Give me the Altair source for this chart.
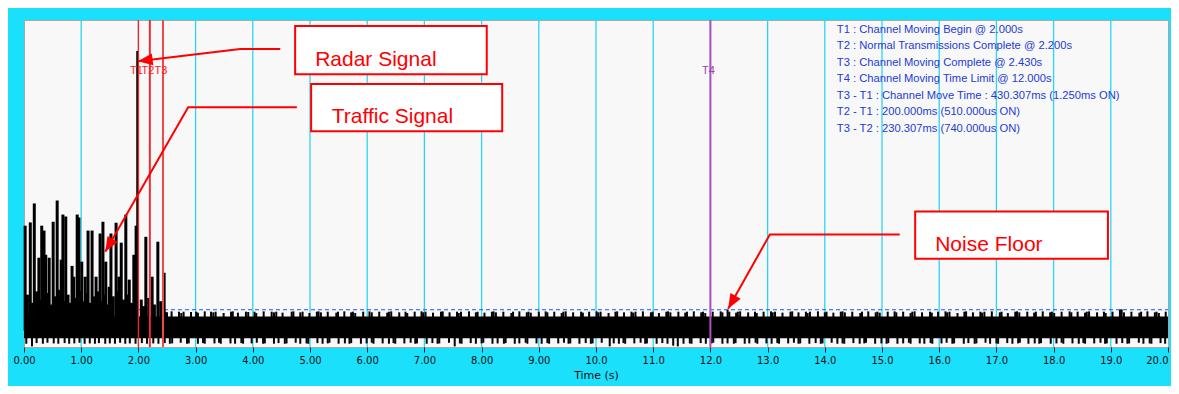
import altair as alt
import pandas as pd

# ---------------- data ----------------
tick_values = list(range(0, 21))
grid_t = list(range(1, 20))

noise_core_lo = 2.7
noise_core_hi = 9.3
noise_ref_level = 11.4     # dashed blue line

# small upward noise spikes (time, top)
noise_up = [
    [2.47, 10.8], [2.50, 10.6], [2.58, 10.9], [2.71, 10.8], [2.75, 10.4], [2.79, 10.8], [2.92, 10.7],
    [3.01, 10.8], [3.04, 10.5], [3.16, 10.9], [3.27, 10.8], [3.31, 10.6], [3.35, 10.8], [3.49, 10.4],
    [3.62, 10.8], [3.65, 10.9], [3.74, 10.5], [3.88, 10.8], [3.92, 10.7], [4.03, 10.8], [4.06, 10.4],
    [4.19, 10.9], [4.33, 10.8], [4.37, 10.6], [4.41, 10.8], [4.52, 10.5], [4.68, 10.8], [4.71, 10.9],
    [4.83, 10.6], [4.87, 10.8], [4.99, 10.4], [5.12, 10.8], [5.15, 10.9], [5.19, 10.6], [5.31, 10.8],
    [5.46, 10.5], [5.49, 10.8], [5.60, 10.9], [5.72, 10.6], [5.75, 10.8], [5.79, 10.4], [5.93, 10.8],
    [6.04, 10.9], [6.08, 10.6], [6.21, 10.8], [6.35, 10.5], [6.38, 10.8], [6.42, 10.9], [6.56, 10.6],
    [6.67, 10.8], [6.70, 10.4], [6.83, 10.8], [6.95, 10.9], [6.98, 10.6], [7.02, 10.8], [7.15, 10.5],
    [7.29, 10.8], [7.32, 10.9], [7.44, 10.6], [7.57, 10.8], [7.60, 10.4], [7.64, 10.8], [7.78, 10.9],
    [7.90, 10.6], [7.93, 10.8], [8.05, 10.5], [8.18, 10.8], [8.21, 10.9], [8.25, 10.6], [8.38, 10.8],
    [8.52, 10.4], [8.55, 10.8], [8.66, 10.9], [8.79, 10.6], [8.82, 10.8], [8.86, 10.5], [9.00, 10.8],
    [9.12, 10.9], [9.15, 10.6], [9.27, 10.8], [9.40, 10.4], [9.43, 10.8], [9.47, 10.9], [9.60, 10.6],
    [9.74, 10.8], [9.77, 10.5], [9.88, 10.8], [10.01, 10.9], [10.04, 10.6], [10.08, 10.8], [10.22, 10.4],
    [10.34, 10.8], [10.37, 10.9], [10.49, 10.6], [10.62, 10.8], [10.65, 10.5], [10.69, 10.8],
    [10.82, 10.9], [10.96, 10.6], [10.99, 10.8], [11.10, 10.4], [11.23, 10.8], [11.26, 10.9],
    [11.30, 10.6], [11.44, 10.8], [11.56, 10.5], [11.59, 10.8], [11.71, 10.9], [11.84, 10.6],
    [11.87, 10.8], [11.91, 10.4], [12.04, 10.8], [12.18, 10.9], [12.21, 10.6], [12.30, 11.5],
    [12.33, 10.8], [12.45, 10.5], [12.48, 10.8], [12.52, 10.9], [12.66, 10.6], [12.78, 10.8],
    [12.81, 10.4], [12.93, 10.8], [13.06, 10.9], [13.09, 10.6], [13.13, 10.8], [13.26, 10.5],
    [13.40, 10.8], [13.43, 10.9], [13.54, 10.6], [13.67, 10.8], [13.70, 10.4], [13.74, 10.8],
    [13.88, 10.9], [14.00, 10.6], [14.03, 10.8], [14.15, 10.5], [14.28, 10.8], [14.31, 10.9],
    [14.35, 10.6], [14.48, 10.8], [14.62, 10.4], [14.65, 10.8], [14.76, 10.9], [14.89, 10.6],
    [14.92, 10.8], [14.96, 10.5], [15.10, 10.8], [15.22, 10.9], [15.25, 10.6], [15.37, 10.8],
    [15.50, 10.4], [15.53, 10.8], [15.57, 10.9], [15.70, 10.6], [15.84, 10.8], [15.87, 10.5],
    [15.98, 10.8], [16.11, 10.9], [16.14, 10.6], [16.18, 10.8], [16.32, 10.4], [16.44, 10.8],
    [16.47, 10.9], [16.59, 10.6], [16.72, 10.8], [16.75, 10.5], [16.79, 10.8], [16.92, 10.9],
    [17.06, 10.6], [17.09, 10.8], [17.20, 10.4], [17.33, 10.8], [17.36, 10.9], [17.40, 10.6],
    [17.54, 10.8], [17.66, 10.5], [17.69, 10.8], [17.81, 10.9], [17.94, 10.6], [17.97, 10.8],
    [18.01, 10.4], [18.14, 10.8], [18.28, 10.9], [18.31, 10.6], [18.42, 10.8], [18.55, 10.5],
    [18.58, 10.8], [18.62, 10.9], [18.76, 10.6], [18.88, 10.8], [18.91, 10.4], [19.03, 10.8],
    [19.16, 11.5], [19.19, 11.5], [19.23, 10.6], [19.36, 10.8], [19.50, 10.5], [19.53, 10.8],
    [19.64, 10.9], [19.77, 10.6], [19.80, 10.8], [19.84, 10.4], [19.96, 10.8],
]

# small downward noise spikes (time, bottom)
noise_dn = [
    [0.04, 1.0], [0.14, 0.2], [0.22, 1.2], [0.33, 1.0], [0.41, 1.3], [0.52, 1.1], [0.60, 1.0], [0.71, 1.2],
    [0.79, 1.0], [0.88, 1.1], [0.97, 1.3], [1.06, 1.0], [1.15, 1.1], [1.24, 1.0], [1.31, 1.2], [1.42, 1.0],
    [1.50, 1.1], [1.59, 1.0], [1.68, 1.3], [1.77, 1.0], [1.85, 1.1], [1.95, 1.0], [2.06, 1.2], [2.15, 1.0],
    [2.26, 1.1], [2.35, 1.0], [2.46, 1.2], [2.55, 1.0], [2.59, 1.1], [2.74, 1.3], [2.85, 1.0], [2.88, 1.1],
    [3.04, 1.0], [3.13, 1.2], [3.16, 1.0], [3.33, 1.1], [3.41, 1.3], [3.44, 1.0], [3.61, 1.1], [3.69, 1.0],
    [3.80, 1.2], [3.83, 1.0], [3.98, 1.1], [4.07, 1.3], [4.18, 1.0], [4.21, 1.1], [4.37, 1.0], [4.45, 1.2],
    [4.56, 1.0], [4.59, 1.1], [4.75, 1.3], [4.83, 1.0], [4.94, 1.1], [4.97, 1.0], [5.13, 1.2], [5.22, 1.0],
    [5.31, 1.1], [5.34, 1.3], [5.50, 1.0], [5.61, 1.1], [5.69, 1.0], [5.72, 1.2], [5.89, 1.0], [5.99, 1.1],
    [6.08, 1.3], [6.11, 1.0], [6.27, 1.1], [6.38, 1.0], [6.46, 1.2], [6.49, 1.0], [6.65, 1.1], [6.76, 1.3],
    [6.84, 1.0], [6.87, 1.1], [7.04, 1.0], [7.14, 1.2], [7.23, 1.0], [7.26, 1.1], [7.43, 1.3], [7.53, 0.2],
    [7.62, 1.1], [7.65, 1.0], [7.81, 1.2], [7.90, 1.0], [8.00, 1.1], [8.03, 1.3], [8.19, 1.0], [8.28, 1.1],
    [8.39, 1.0], [8.42, 1.2], [8.58, 1.0], [8.66, 1.1], [8.77, 1.3], [8.80, 1.0], [8.96, 1.1], [9.05, 1.0],
    [9.15, 1.2], [9.18, 1.0], [9.34, 1.1], [9.44, 1.3], [9.52, 1.0], [9.55, 1.1], [9.71, 1.0], [9.82, 1.2],
    [9.91, 1.0], [9.94, 1.1], [10.10, 1.3], [10.24, 0.2], [10.31, 1.1], [10.40, 1.0], [10.48, 1.2],
    [10.51, 1.0], [10.67, 1.1], [10.78, 1.3], [10.86, 1.0], [10.89, 1.1], [11.06, 1.0], [11.16, 1.2],
    [11.25, 1.0], [11.35, 0.4], [11.43, 0.2], [11.53, 1.0], [11.64, 1.1], [11.67, 1.0], [11.83, 1.2],
    [11.92, 1.0], [12.02, 1.1], [12.05, 1.3], [12.21, 1.0], [12.30, 1.1], [12.41, 1.0], [12.44, 1.2],
    [12.60, 1.0], [12.68, 1.1], [12.79, 1.3], [12.82, 1.0], [12.98, 1.1], [13.07, 1.0], [13.17, 1.2],
    [13.20, 1.0], [13.36, 1.1], [13.46, 1.3], [13.54, 1.0], [13.57, 1.1], [13.73, 1.0], [13.84, 1.2],
    [13.93, 1.0], [13.96, 1.1], [14.12, 1.3], [14.22, 1.0], [14.31, 1.1], [14.34, 1.0], [14.50, 1.2],
    [14.61, 1.0], [14.69, 1.1], [14.72, 1.3], [14.88, 1.0], [14.99, 1.1], [15.08, 1.0], [15.11, 1.2],
    [15.27, 1.0], [15.37, 1.1], [15.47, 1.3], [15.50, 1.0], [15.66, 1.1], [15.74, 1.0], [15.85, 1.2],
    [15.88, 1.0], [16.04, 1.1], [16.13, 1.3], [16.23, 1.0], [16.26, 1.1], [16.43, 1.0], [16.51, 1.2],
    [16.62, 1.0], [16.65, 1.1], [16.81, 1.3], [16.89, 1.0], [17.00, 1.1], [17.03, 1.0], [17.19, 1.2],
    [17.28, 1.0], [17.38, 1.1], [17.41, 1.3], [17.56, 1.0], [17.67, 1.1], [17.75, 1.0], [17.78, 1.2],
    [17.95, 1.0], [18.05, 1.1], [18.14, 1.3], [18.17, 1.0], [18.33, 1.1], [18.44, 1.0], [18.52, 1.2],
    [18.55, 1.0], [18.71, 1.1], [18.82, 1.3], [18.90, 1.0], [18.93, 1.1], [19.10, 1.0], [19.20, 1.2],
    [19.29, 1.0], [19.32, 1.1], [19.49, 1.3], [19.57, 1.0], [19.68, 1.1], [19.71, 1.0], [19.87, 1.2],
    [19.95, 1.0],
]

# traffic signal bursts before the channel move (time, peak)
traffic_peaks = [
    [0.02, 37.1], [0.11, 38.1], [0.18, 43.9], [0.26, 27.3], [0.31, 37.1], [0.35, 35.6], [0.38, 28.2],
    [0.44, 27.3], [0.51, 38.3], [0.58, 44.8], [0.65, 26.7], [0.68, 40.5], [0.73, 39.9], [0.84, 24.8],
    [0.87, 21.5], [0.93, 40.5], [0.96, 39.6], [1.01, 26.1], [1.07, 21.5], [1.12, 35.6], [1.19, 35.6],
    [1.26, 21.5], [1.33, 34.7], [1.38, 38.3], [1.43, 26.1], [1.49, 18.4], [1.52, 34.7], [1.61, 38.0],
    [1.66, 21.5], [1.70, 31.9], [1.78, 40.5], [1.84, 20.6], [1.92, 28.2], [1.96, 37.1], [2.13, 33.7],
    [2.24, 21.5], [2.34, 32.2], [2.45, 22.7],
]
# low traffic bursts filling the base of the burst region
traffic_low = [
    [0.06, 16.0], [0.14, 13.5], [0.22, 17.0], [0.29, 14.5], [0.41, 16.5], [0.47, 13.0], [0.55, 15.5],
    [0.62, 17.5], [0.70, 14.0], [0.77, 16.0], [0.80, 13.5], [0.90, 15.0], [0.99, 17.0], [1.04, 14.0],
    [1.09, 16.5], [1.16, 13.5], [1.22, 15.5], [1.30, 17.0], [1.36, 14.0], [1.41, 16.0], [1.46, 13.0],
    [1.56, 15.5], [1.64, 17.0], [1.74, 14.5], [1.81, 16.0], [1.88, 13.5], [2.05, 14.5], [2.09, 12.5],
    [2.18, 15.0], [2.28, 13.0], [2.39, 14.0],
]
radar_t = [1.985]
radar_peak = [90.5]

marker_names = ["T1", "T2", "T3", "T4"]
marker_t = [2.0, 2.2, 2.43, 12.0]
marker_colors = ["#ff2020", "#e83030", "#f04848", "#b050c0"]
marker_label_colors = ["#ff2020", "#ff2020", "#ff2020", "#a040b0"]
marker_widths = [1.3, 2.0, 2.0, 2.0]
marker_label_v = 84.4

info_lines = [
    "T1 : Channel Moving Begin @ 2.000s",
    "T2 : Normal Transmissions Complete @ 2.200s",
    "T3 : Channel Moving Complete @ 2.430s",
    "T4 : Channel Moving Time Limit @ 12.000s",
    " ",
    "T3 - T1 : Channel Move Time : 430.307ms (1.250ms ON)",
    "T2 - T1 : 200.000ms (510.000us ON)",
    "T3 - T2 : 230.307ms (740.000us ON)",
]
info_anchor = [14.21, 98.9]

box_names = ["Radar Signal", "Traffic Signal", "Noise Floor"]
box_t0 = [4.74, 5.02, 15.58]
box_t1 = [8.09, 8.36, 18.95]
box_v0 = [83.4, 66.0, 27.0]
box_v1 = [98.2, 80.4, 41.4]
box_text_t = [5.09, 5.38, 15.93]
box_text_v = [87.8, 70.4, 31.1]

arrow_pts = {
    "Radar Signal": [[4.48, 91.1], [3.78, 91.1], [1.99, 87.4]],
    "Traffic Signal": [[4.77, 73.3], [2.87, 73.3], [1.42, 29.1]],
    "Noise Floor": [[15.31, 34.4], [13.04, 34.4], [12.31, 11.7]],
}
arrow_head_angle = [353, 300, 300]

# ---------------- chart ----------------
xs = alt.Scale(domain=[0, 20], nice=False, zero=False)
ys = alt.Scale(domain=[0, 100], nice=False, zero=False)

x_axis = alt.Axis(
    values=tick_values, grid=False, domain=False, ticks=True, tickSize=5,
    tickColor="#222222", tickWidth=1,
    labelExpr="datum.value < 10 ? format(datum.value, '.2f') : format(datum.value, '.1f')",
    labelAlign={"condition": {"test": "datum.value >= 20", "value": "right"}, "value": "center"},
    labelFont="DejaVu Sans", labelFontSize=10, labelColor="#111111", labelPadding=3,
    labelFlush=False, labelOverlap=False,
    title="Time (s)", titleFont="DejaVu Sans", titleFontSize=11, titleFontWeight="normal",
    titleColor="#111111", titlePadding=4)


def X(f):
    return alt.X(f, type="quantitative", scale=xs, axis=x_axis)


def Y(f):
    return alt.Y(f, type="quantitative", scale=ys, axis=None)


grid = alt.Chart(pd.DataFrame({"t": grid_t})).mark_rule(
    color="#2ad6f6", strokeWidth=1.3).encode(x=X("t"))

ref = alt.Chart(pd.DataFrame({"t0": [0], "t1": [20], "v": [noise_ref_level]})).mark_rule(
    color="#2255ff", strokeWidth=1, strokeDash=[4, 3]).encode(x=X("t0"), x2="t1", y=Y("v"))

core = alt.Chart(pd.DataFrame({"t0": [0], "t1": [20], "lo": [noise_core_lo], "hi": [noise_core_hi]})).mark_rect(
    color="#000000").encode(x=X("t0"), x2="t1", y=Y("lo"), y2="hi")

up_df = pd.DataFrame(noise_up, columns=["t", "v"])
up_df["base"] = 5.0
ups = alt.Chart(up_df).mark_rule(color="#000000", strokeWidth=2).encode(x=X("t"), y=Y("base"), y2="v")

dn_df = pd.DataFrame(noise_dn, columns=["t", "v"])
dn_df["base"] = 5.0
dns = alt.Chart(dn_df).mark_rule(color="#000000", strokeWidth=2).encode(x=X("t"), y=Y("v"), y2="base")

tr_df = pd.DataFrame(traffic_peaks + traffic_low, columns=["t", "v"])
tr_df["base"] = 5.0
traffic = alt.Chart(tr_df).mark_rule(color="#000000", strokeWidth=3).encode(x=X("t"), y=Y("base"), y2="v")

rad_df = pd.DataFrame({"t": radar_t, "v": radar_peak, "base": [5.0]})
radar = alt.Chart(rad_df).mark_rule(color="#000000", strokeWidth=2.6).encode(x=X("t"), y=Y("base"), y2="v")

mk_df = pd.DataFrame({"name": marker_names, "t": marker_t, "color": marker_colors,
                      "lcolor": marker_label_colors, "w": marker_widths,
                      "lv": [marker_label_v] * 4})
markers = alt.Chart(mk_df).mark_rule().encode(
    x=X("t"),
    color=alt.Color("color:N", scale=None),
    strokeWidth=alt.StrokeWidth("w:Q", scale=None),
)
marker_labels = alt.Chart(mk_df).mark_text(font="Liberation Sans", fontSize=11, align="center",
                                           baseline="middle", dx=-2).encode(
    x=X("t"), y=Y("lv"), text="name:N", color=alt.Color("lcolor:N", scale=None))

info = alt.Chart(pd.DataFrame({"t": [info_anchor[0]], "v": [info_anchor[1]]})).mark_text(
    text=info_lines, font="Liberation Sans", fontSize=11.2, lineHeight=16.5, align="left",
    baseline="top", color="#1c3cd4").encode(x=X("t"), y=Y("v"))

box_df = pd.DataFrame({"name": box_names, "t0": box_t0, "t1": box_t1, "v0": box_v0, "v1": box_v1,
                       "tt": box_text_t, "tv": box_text_v})
boxes = alt.Chart(box_df).mark_rect(fill="#ffffff", stroke="#ff0000", strokeWidth=2).encode(
    x=X("t0"), x2="t1", y=Y("v0"), y2="v1")
box_text = alt.Chart(box_df).mark_text(font="Liberation Sans", fontSize=21, align="left",
                                       baseline="middle", color="#ff0000").encode(
    x=X("tt"), y=Y("tv"), text="name:N")

rows = []
for name, pts in arrow_pts.items():
    for i, (t, v) in enumerate(pts):
        rows.append({"name": name, "order": i, "t": t, "v": v})
arr_df = pd.DataFrame(rows)
arrows = alt.Chart(arr_df).mark_line(color="#ff0000", strokeWidth=2).encode(
    x=X("t"), y=Y("v"), detail="name:N", order="order:Q")

head_df = pd.DataFrame({"name": box_names,
                        "t": [arrow_pts[n][-1][0] for n in box_names],
                        "v": [arrow_pts[n][-1][1] for n in box_names],
                        "angle": arrow_head_angle})
heads = alt.Chart(head_df).mark_point(shape="M0,0L2,-0.8L2,0.8Z", filled=True, color="#ff0000",
                                      opacity=1, size=220, strokeWidth=0).encode(
    x=X("t"), y=Y("v"), angle=alt.Angle("angle:Q", scale=None))

chart = alt.layer(
    grid, core, ups, dns, ref, traffic, radar, markers, marker_labels,
    info, boxes, box_text, arrows, heads,
).properties(
    width=1144, height=327, background="#1ae0fc",
    padding={"left": 16, "top": 12, "right": 3, "bottom": 39},
    autosize=alt.AutoSizeParams(type="none"),
).configure_view(fill="#f8f8f8", stroke="#a8a8a8", strokeWidth=1)

chart.save("out.html", embed_options={"renderer": "svg", "actions": False})
